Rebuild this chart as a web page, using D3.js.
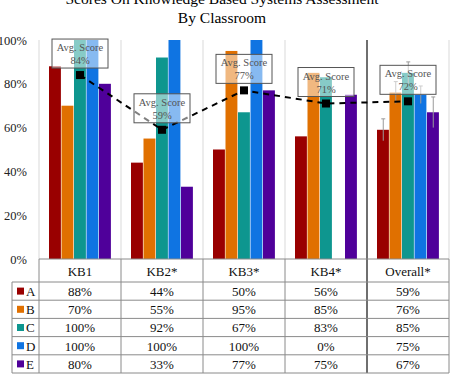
<!DOCTYPE html>
<html>
<head>
<meta charset="utf-8">
<script src="https://cdn.jsdelivr.net/npm/d3@7"></script>
<style>
  body { margin: 0; background: #fff; }
</style>
</head>
<body>
<svg width="458" height="374"></svg>
<script>
var categories = ["KB1", "KB2*", "KB3*", "KB4*", "Overall*"];
var seriesNames = ["A", "B", "C", "D", "E"];
var valuesA = [88, 44, 50, 56, 59];
var valuesB = [70, 55, 95, 85, 76];
var valuesC = [100, 92, 67, 83, 85];
var valuesD = [100, 100, 100, 0, 75];
var valuesE = [80, 33, 77, 75, 67];
var avgScores = [84, 59, 77, 71, 72];
var overallErrors = [5, 5, 5, 4, 7];
var yTicks = [0, 20, 40, 60, 80, 100];
var colors = ["#990000", "#e07000", "#0e968f", "#0f74e2", "#4f009a"];

var series = [valuesA, valuesB, valuesC, valuesD, valuesE];
var serif = "'Liberation Serif', 'DejaVu Serif', serif";

var svg = d3.select("svg"),
    margin = {top: 40, left: 39, right: 9},
    width = +svg.attr("width") - margin.left - margin.right,
    plotBottom = 259,
    g = svg.append("g").attr("transform", "translate(" + margin.left + ",0)");

var x = d3.scaleBand().domain(categories).range([0, width]);
var xs = d3.scaleBand().domain(seriesNames).range([10, x.bandwidth() - 9.5]);
var y = d3.scaleLinear().domain([0, 100]).range([plotBottom, margin.top]);

// title
svg.append("text").attr("x", 222).attr("y", 4).attr("text-anchor", "middle")
    .style("font-size", "15.5px").text("Scores On Knowledge Based Systems Assessment");
svg.append("text").attr("x", 222).attr("y", 23).attr("text-anchor", "middle")
    .style("font-size", "15.5px").text("By Classroom");

// y labels
svg.selectAll(".ylab").data(yTicks).enter().append("text")
    .attr("x", 27).attr("y", d => y(d) + 4.5)
    .attr("text-anchor", "end").style("font-size", "12.5px").attr("fill", "#222")
    .text(d => d + "%");

// category separators
g.selectAll(".sep").data(d3.range(categories.length + 1)).enter().append("line")
    .attr("x1", i => i * x.step()).attr("x2", i => i * x.step())
    .attr("y1", margin.top).attr("y2", plotBottom)
    .attr("stroke", "#d9d9d9").attr("stroke-width", 1);

// bars
series.forEach(function(vals, si) {
  g.selectAll(".bar" + si).data(vals).enter().append("rect")
    .attr("x", (d, i) => x(categories[i]) + xs(seriesNames[si]))
    .attr("width", xs.bandwidth() - 0.6)
    .attr("y", d => y(d))
    .attr("height", d => plotBottom - y(d))
    .attr("fill", colors[si]);
});

// error bars on Overall
var oc = categories[categories.length - 1];
overallErrors.forEach(function(e, si) {
  var cx = x(oc) + xs(seriesNames[si]) + xs.bandwidth() / 2;
  var v = series[si][categories.length - 1];
  g.append("line").attr("x1", cx).attr("x2", cx).attr("y1", y(v + e)).attr("y2", y(v - e))
    .attr("stroke", "#9a9a9a").attr("stroke-width", 1);
  g.append("line").attr("x1", cx - 2).attr("x2", cx + 2).attr("y1", y(v + e)).attr("y2", y(v + e))
    .attr("stroke", "#9a9a9a").attr("stroke-width", 1);
});

// thick separator before Overall
g.append("line").attr("x1", x(oc)).attr("x2", x(oc)).attr("y1", margin.top).attr("y2", 373)
  .attr("stroke", "#6f6f6f").attr("stroke-width", 2);

// average line
var line = d3.line()
    .x((d, i) => x(categories[i]) + x.bandwidth() / 2)
    .y(d => y(d));
g.append("path").datum(avgScores).attr("d", line)
  .attr("fill", "none").attr("stroke", "#000").attr("stroke-width", 2)
  .attr("stroke-dasharray", "6,5");
g.selectAll(".mk").data(avgScores).enter().append("rect")
  .attr("x", (d, i) => x(categories[i]) + x.bandwidth() / 2 - 4)
  .attr("y", d => y(d) - 4).attr("width", 8).attr("height", 8).attr("fill", "#000");

// callout boxes
var boxes = g.selectAll(".box").data(avgScores).enter().append("g")
  .attr("transform", (d, i) => "translate(" + (x(categories[i]) + x.bandwidth() / 2) + "," + (y(d) - 7) + ")");
boxes.append("rect").attr("x", -28).attr("y", -29).attr("width", 56).attr("height", 29)
  .attr("fill", "rgba(255,255,255,0.5)").attr("stroke", "#555").attr("stroke-width", 1);
boxes.append("text").attr("y", -17).attr("text-anchor", "middle")
  .style("font-size", "10.5px").attr("fill", "#555").text("Avg. Score");
boxes.append("text").attr("y", -4).attr("text-anchor", "middle")
  .style("font-size", "10.5px").attr("fill", "#555").text(d => d + "%");

// data table
var headerTop = plotBottom, headerH = 23, rowH = 18.2, tableLeft = 12;
var tableBottom = headerTop + headerH + rowH * seriesNames.length;
var gridColor = "#8a8a8a";

svg.append("line").attr("x1", margin.left).attr("x2", margin.left + width)
  .attr("y1", headerTop).attr("y2", headerTop).attr("stroke", gridColor);
d3.range(seriesNames.length + 1).forEach(function(r) {
  var yy = headerTop + headerH + r * rowH;
  svg.append("line").attr("x1", tableLeft).attr("x2", margin.left + width)
    .attr("y1", yy).attr("y2", yy).attr("stroke", gridColor);
});
svg.append("line").attr("x1", tableLeft).attr("x2", tableLeft)
  .attr("y1", headerTop + headerH).attr("y2", tableBottom).attr("stroke", gridColor);
d3.range(categories.length + 1).forEach(function(c) {
  if (c === categories.length - 1) return;
  var xx = margin.left + c * x.step();
  svg.append("line").attr("x1", xx).attr("x2", xx)
    .attr("y1", headerTop).attr("y2", tableBottom).attr("stroke", gridColor);
});

g.selectAll(".hdr").data(categories).enter().append("text")
  .attr("x", d => x(d) + x.bandwidth() / 2).attr("y", headerTop + 16.5)
  .attr("text-anchor", "middle").style("font-size", "13px").attr("fill", "#111").text(d => d);

series.forEach(function(vals, si) {
  var ry = headerTop + headerH + si * rowH;
  svg.append("rect").attr("x", 17).attr("y", ry + rowH / 2 - 3.5).attr("width", 7).attr("height", 7)
    .attr("fill", colors[si]);
  svg.append("text").attr("x", 26).attr("y", ry + 14).style("font-size", "13px").attr("fill", "#111")
    .text(seriesNames[si]);
  g.selectAll(".cell" + si).data(vals).enter().append("text")
    .attr("x", (d, i) => x(categories[i]) + x.bandwidth() / 2).attr("y", ry + 14)
    .attr("text-anchor", "middle").style("font-size", "13px").attr("fill", "#111")
    .text(d => d + "%");
});

svg.selectAll("text").style("font-family", serif);
</script>
</body>
</html>
